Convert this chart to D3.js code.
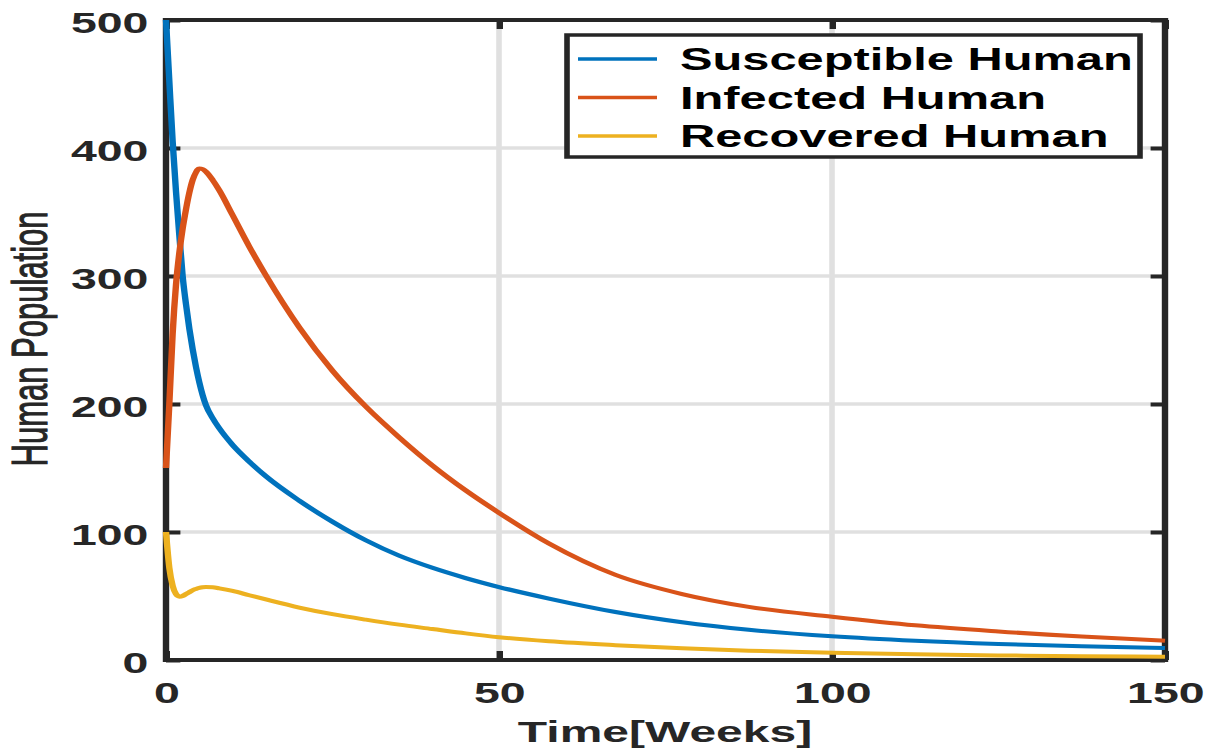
<!DOCTYPE html>
<html>
<head>
<meta charset="utf-8">
<script src="https://d3js.org/d3.v7.min.js"></script>
<style>
  body { margin: 0; background: #fff; }
  svg { display: block; }
</style>
</head>
<body>
<script>
// data
const weeks = [0, 0.5, 1, 1.5, 2, 2.5, 3, 3.5, 4, 4.5, 5, 5.5, 6, 7, 8, 10, 12.5, 15, 20, 25, 30, 35, 40, 45, 50, 57.5, 67.5, 77.5, 87.5, 100, 112.5, 125, 137.5, 150];
const susceptible = [500, 452, 405, 366, 332, 300, 278, 259, 243, 229, 217, 207, 199, 189, 181, 168, 155, 143.5, 124.5, 108, 93.5, 81.5, 72, 64, 57, 48, 37.5, 29.5, 23.6, 18.5, 15, 12.5, 10.7, 9.3];
const infected = [150, 200, 255, 293, 318, 337, 352, 365, 375, 381, 384, 383.5, 381.5, 375, 367, 347.5, 323, 300.5, 260, 226, 198, 174, 152, 132.5, 115, 91, 66.5, 51.5, 41.5, 33.8, 27.1, 22.3, 18.3, 15];
const recovered = [100, 72, 58, 51.5, 49.5, 50, 51.5, 53, 54.5, 55.5, 56.3, 56.8, 57, 56.8, 56, 54, 50.6, 47.3, 41, 35.8, 31.5, 27.6, 24.2, 20.8, 17.8, 14.6, 11.6, 9.2, 7.3, 5.6, 4.4, 3.6, 3, 2.6];

const xTicks = [0, 50, 100, 150];
const yTicks = [0, 100, 200, 300, 400, 500];
const seriesNames = ["Susceptible Human", "Infected Human", "Recovered Human"];
const seriesColors = ["#0072BD", "#D95319", "#EDB120"];
const seriesValues = [susceptible, infected, recovered];

// the whole figure is stretched sideways
const SX = 1.6;
const axisColor = "#262626";
const font = "'Liberation Sans', Arial, sans-serif";

const svg = d3.select("body").append("svg")
    .attr("width", 1215)
    .attr("height", 751);

svg.append("rect").attr("width", 1215).attr("height", 751).attr("fill", "#fff");

const g = svg.append("g").attr("transform", `scale(${SX},1)`);

const x = d3.scaleLinear().domain([0, 150]).range([166 / SX, 1165 / SX]);
const y = d3.scaleLinear().domain([0, 500]).range([660, 20]);

// grid
g.append("g")
    .selectAll("line")
    .data(yTicks.slice(1, -1))
    .join("line")
    .attr("x1", x(0)).attr("x2", x(150))
    .attr("y1", d => y(d)).attr("y2", d => y(d))
    .attr("stroke", "#e0e0e0")
    .attr("stroke-width", 3.5);

g.append("g")
    .selectAll("line")
    .data(xTicks.slice(1, -1))
    .join("line")
    .attr("x1", d => x(d)).attr("x2", d => x(d))
    .attr("y1", y(0)).attr("y2", y(500))
    .attr("stroke", "#e0e0e0")
    .attr("stroke-width", 3.5);

// axes (ticks inside)
function styleAxis(sel) {
    sel.select(".domain").remove();
    sel.selectAll(".tick line").attr("stroke", axisColor).attr("stroke-width", 4);
    sel.selectAll(".tick text")
        .attr("fill", axisColor)
        .style("font-family", font)
        .style("font-weight", "bold")
        .style("font-size", "29px");
}

g.append("g")
    .attr("transform", `translate(0,${y(0)})`)
    .call(d3.axisBottom(x).tickValues(xTicks).tickSize(-9).tickSizeOuter(0).tickPadding(22))
    .call(styleAxis);

g.append("g")
    .attr("transform", `translate(${x(0)},0)`)
    .call(d3.axisLeft(y).tickValues(yTicks).tickSize(-9).tickSizeOuter(0).tickPadding(11))
    .call(styleAxis)
    .selectAll(".tick text").attr("dy", "0.42em");

g.append("g")
    .attr("transform", `translate(0,${y(500)})`)
    .call(d3.axisTop(x).tickValues(xTicks).tickSize(-9).tickSizeOuter(0).tickFormat(""))
    .call(styleAxis);

g.append("g")
    .attr("transform", `translate(${x(150)},0)`)
    .call(d3.axisRight(y).tickValues(yTicks).tickSize(-9).tickSizeOuter(0).tickFormat(""))
    .call(styleAxis);

g.append("rect")
    .attr("x", x(0)).attr("y", y(500))
    .attr("width", x(150) - x(0)).attr("height", y(0) - y(500))
    .attr("fill", "none")
    .attr("stroke", axisColor)
    .attr("stroke-width", 4);

// curves
const line = d3.line()
    .x((d, i) => x(weeks[i]))
    .y(d => y(d))
    .curve(d3.curveMonotoneX);

g.append("g")
    .selectAll("path")
    .data(seriesValues)
    .join("path")
    .attr("d", line)
    .attr("fill", "none")
    .attr("stroke", (d, i) => seriesColors[i])
    .attr("stroke-width", 4)
    .attr("stroke-linejoin", "round");

// axis titles
g.append("text")
    .attr("x", 665 / SX)
    .attr("y", 742)
    .attr("text-anchor", "middle")
    .attr("fill", axisColor)
    .style("font-family", font)
    .style("font-weight", "bold")
    .style("font-size", "30px")
    .text("Time[Weeks]");

g.append("text")
    .attr("transform", `translate(${47 / SX},339) rotate(-90)`)
    .attr("text-anchor", "middle")
    .attr("fill", axisColor)
    .attr("stroke", axisColor)
    .attr("stroke-width", 0.7)
    .style("font-family", font)
    .style("font-size", "31px")
    .text("Human Population");

// legend
const legend = g.append("g");
legend.append("rect")
    .attr("x", 567 / SX).attr("y", 35)
    .attr("width", (1140 - 567) / SX).attr("height", 122)
    .attr("fill", "#fff")
    .attr("stroke", axisColor)
    .attr("stroke-width", 3.5);

const rows = legend.selectAll(".row")
    .data(seriesNames)
    .join("g")
    .attr("class", "row")
    .attr("transform", (d, i) => `translate(0,${59 + i * 38.5})`);

rows.append("line")
    .attr("x1", 578 / SX).attr("x2", 657 / SX)
    .attr("stroke", (d, i) => seriesColors[i])
    .attr("stroke-width", 3.5);

rows.append("text")
    .attr("x", 680 / SX)
    .attr("y", 11)
    .attr("fill", "#000")
    .style("font-family", font)
    .style("font-weight", "bold")
    .style("font-size", "30.5px")
    .text(d => d);
</script>
</body>
</html>
